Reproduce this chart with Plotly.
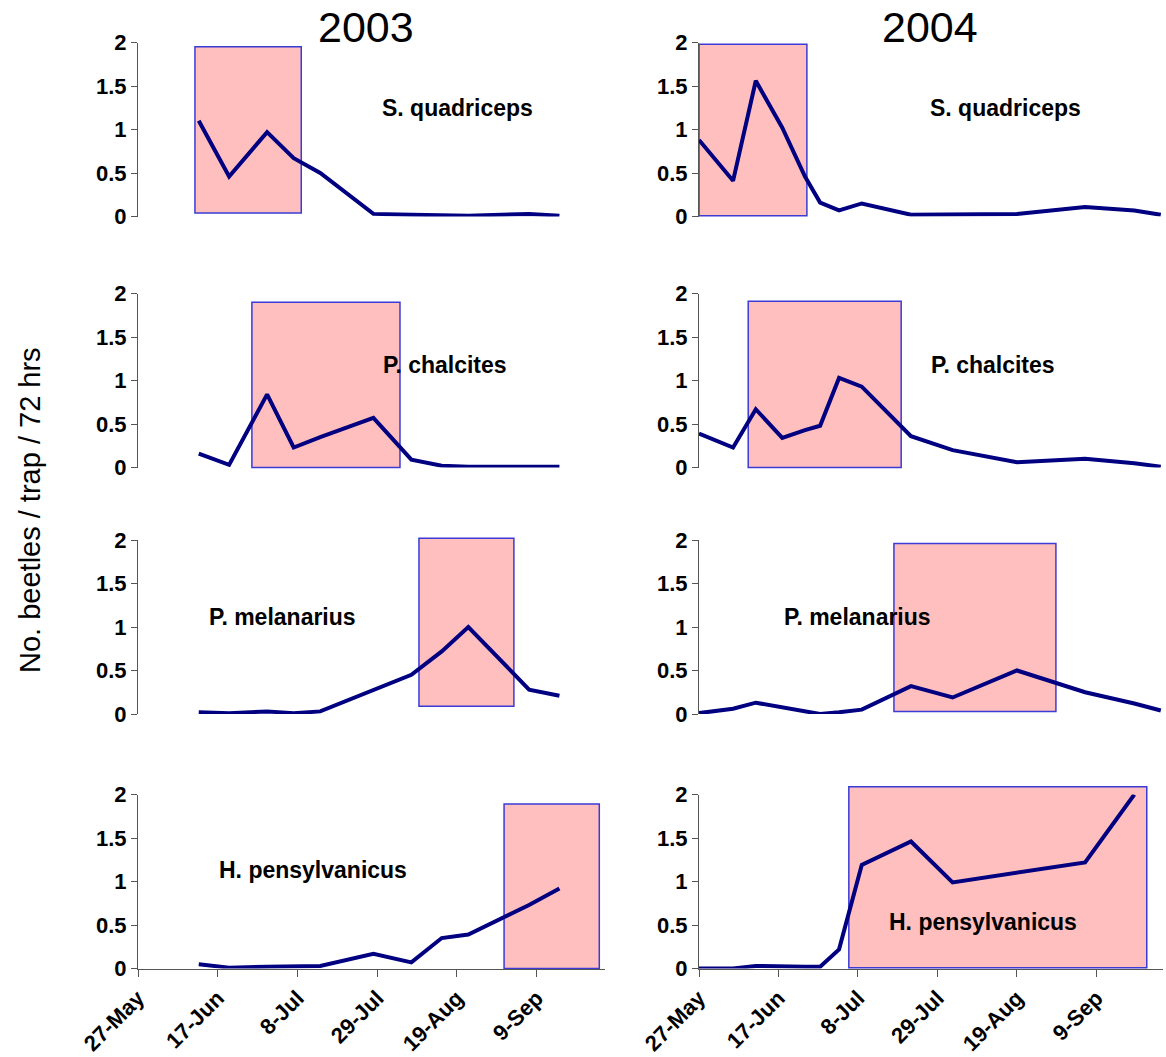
import plotly.graph_objects as go

W, H = 1166, 1057

# ---- data -------------------------------------------------------------
species = ["S. quadriceps", "P. chalcites", "P. melanarius", "H. pensylvanicus"]
years = ["2003", "2004"]

dates_2003 = ["2003-06-12", "2003-06-20", "2003-06-30", "2003-07-07", "2003-07-14",
              "2003-07-28", "2003-08-07", "2003-08-15", "2003-08-22", "2003-09-07",
              "2003-09-15"]
s_quadriceps_2003 = [1.10, 0.46, 0.97, 0.67, 0.50, 0.03, 0.02, 0.01, 0.01, 0.03, 0.01]
p_chalcites_2003 = [0.16, 0.03, 0.84, 0.23, 0.35, 0.57, 0.09, 0.02, 0.01, 0.01, 0.01]
p_melanarius_2003 = [0.02, 0.01, 0.03, 0.01, 0.03, 0.28, 0.45, 0.72, 1.00, 0.28, 0.21]
h_pensylvanicus_2003 = [0.05, 0.01, 0.02, 0.02, 0.03, 0.17, 0.07, 0.35, 0.39, 0.73, 0.92]

dates_2004 = ["2004-05-27", "2004-06-05", "2004-06-11", "2004-06-18", "2004-06-24",
              "2004-06-28", "2004-07-03", "2004-07-09", "2004-07-22", "2004-08-02",
              "2004-08-19", "2004-09-06", "2004-09-19", "2004-09-26"]
s_quadriceps_2004 = [0.88, 0.41, 1.56, 1.02, 0.46, 0.16, 0.07, 0.15, 0.02, 0.02, 0.03, 0.11, 0.07, 0.02]
p_chalcites_2004 = [0.39, 0.23, 0.67, 0.34, 0.43, 0.48, 1.03, 0.93, 0.36, 0.20, 0.06, 0.10, 0.05, 0.01]
p_melanarius_2004 = [0.01, 0.06, 0.13, 0.08, 0.03, 0.00, 0.02, 0.05, 0.32, 0.19, 0.50, 0.25, 0.12, 0.04]
h_pensylvanicus_2004 = [0.00, 0.00, 0.03, 0.02, 0.02, 0.02, 0.22, 1.19, 1.46, 0.99, 1.10, 1.22, 2.00, None]

tick_labels = ["27-May", "17-Jun", "8-Jul", "29-Jul", "19-Aug", "9-Sep"]
tick_dates_2003 = ["2003-05-27", "2003-06-17", "2003-07-08", "2003-07-29", "2003-08-19", "2003-09-09"]
tick_dates_2004 = ["2004-05-27", "2004-06-17", "2004-07-08", "2004-07-29", "2004-08-19", "2004-09-09"]

# main activity periods (start, end, low, high) per species and year
periods_2003 = [("2003-06-11", "2003-07-09", 0.04, 1.95),
                ("2003-06-26", "2003-08-04", 0.00, 1.90),
                ("2003-08-09", "2003-09-03", 0.09, 2.02),
                ("2003-08-31 10:00", "2003-09-25 12:00", 0.00, 1.89)]
periods_2004 = [("2004-05-27", "2004-06-24 12:00", 0.01, 1.98),
                ("2004-06-09", "2004-07-19 10:00", 0.00, 1.91),
                ("2004-07-17 12:00", "2004-08-29 07:00", 0.03, 1.96),
                ("2004-07-05 14:00", "2004-09-22 07:00", 0.01, 2.09)]

series = {
    "2003": [s_quadriceps_2003, p_chalcites_2003, p_melanarius_2003, h_pensylvanicus_2003],
    "2004": [s_quadriceps_2004, p_chalcites_2004, p_melanarius_2004, h_pensylvanicus_2004],
}
dates = {"2003": dates_2003, "2004": dates_2004}
tick_dates = {"2003": tick_dates_2003, "2004": tick_dates_2004}
periods = {"2003": periods_2003, "2004": periods_2004}
x_ranges = {"2003": ["2003-05-27", "2003-09-27"], "2004": ["2004-05-27", "2004-09-26 14:00"]}

# ---- layout geometry (pixels) -----------------------------------------
col_px = [(138, 605), (699, 1163)]
row_zero_px = [216.5, 467.5, 714, 968.5]
unit_px = 87.0

FONT = "Arial, Liberation Sans, sans-serif"
LINE_COLOR = "#000080"
AXIS_COLOR = "#555555"


def px_x(x):
    return x / W


def px_y(y):
    return 1 - y / H


fig = go.Figure()
layout = dict(
    width=W, height=H,
    margin=dict(l=0, r=0, t=0, b=0, pad=0, autoexpand=False),
    paper_bgcolor="white", plot_bgcolor="rgba(0,0,0,0)",
    showlegend=False,
    font=dict(family=FONT, color="black"),
)
shapes = []
annotations = []

idx = 0
for r in range(4):
    p0 = row_zero_px[r]
    y_dom = [px_y(p0), px_y(p0 - 2 * unit_px)]
    for c, yr in enumerate(years):
        idx += 1
        xa = "x" if idx == 1 else f"x{idx}"
        ya = "y" if idx == 1 else f"y{idx}"
        xkey = "xaxis" if idx == 1 else f"xaxis{idx}"
        ykey = "yaxis" if idx == 1 else f"yaxis{idx}"
        bottom = r == 3
        layout[xkey] = dict(
            domain=[px_x(col_px[c][0]), px_x(col_px[c][1])],
            anchor=ya, type="date", range=x_ranges[yr], automargin=False,
            showgrid=False, zeroline=False,
            showline=bottom, linecolor=AXIS_COLOR, linewidth=1,
            ticks="outside" if bottom else "", ticklen=7, tickcolor=AXIS_COLOR,
            tickmode="array", tickvals=tick_dates[yr], ticktext=tick_labels,
            showticklabels=bottom, tickangle=-45,
            tickfont=dict(family=FONT, size=22, color="black", weight="bold"),
        )
        layout[ykey] = dict(
            domain=y_dom, anchor=xa, range=[0, 2], automargin=False,
            showgrid=False, zeroline=False,
            showline=True, linecolor=AXIS_COLOR, linewidth=1,
            ticks="outside", ticklen=6, tickcolor=AXIS_COLOR,
            tickmode="array", tickvals=[0, 0.5, 1, 1.5, 2],
            ticktext=["0", "0.5", "1", "1.5", "2"],
            tickfont=dict(family=FONT, size=22, color="black", weight="bold"),
        )

        # shaded activity window
        x0, x1, lo, hi = periods[yr][r]
        shapes.append(dict(
            type="rect", xref=xa, yref="paper",
            x0=x0, x1=x1,
            y0=y_dom[0] + lo / 2 * (y_dom[1] - y_dom[0]),
            y1=y_dom[0] + hi / 2 * (y_dom[1] - y_dom[0]),
            fillcolor="#FFBFBF", line=dict(color="#3B3BD6", width=1.5),
            layer="below",
        ))

        fig.add_trace(go.Scatter(
            x=dates[yr], y=series[yr][r], mode="lines",
            line=dict(color=LINE_COLOR, width=4),
            connectgaps=False, cliponaxis=False,
            xaxis=xa, yaxis=ya, hoverinfo="skip",
        ))

# species labels
label_px = [
    [(457, 108), (1005, 108)],
    [(445, 365), (993, 365)],
    [(282, 617), (858, 617)],
    [(313, 870), (983, 922)],
]
for r, name in enumerate(species):
    for c in range(2):
        lx, ly = label_px[r][c]
        annotations.append(dict(
            text=name, xref="paper", yref="paper", x=px_x(lx), y=px_y(ly),
            xanchor="center", yanchor="middle", showarrow=False,
            font=dict(family=FONT, size=23, color="black", weight="bold"),
        ))

# year headers
for yr, cx in zip(years, [366, 930]):
    annotations.append(dict(
        text=yr, xref="paper", yref="paper", x=px_x(cx), y=px_y(27),
        xanchor="center", yanchor="middle", showarrow=False,
        font=dict(family=FONT, size=43, color="black"),
    ))

# shared y-axis title
annotations.append(dict(
    text="No. beetles / trap / 72 hrs", xref="paper", yref="paper",
    x=px_x(30), y=px_y(510), textangle=-90,
    xanchor="center", yanchor="middle", showarrow=False,
    font=dict(family=FONT, size=29, color="black"),
))

layout["shapes"] = shapes
layout["annotations"] = annotations
fig.update_layout(**layout)
fig.write_html("out.html")
